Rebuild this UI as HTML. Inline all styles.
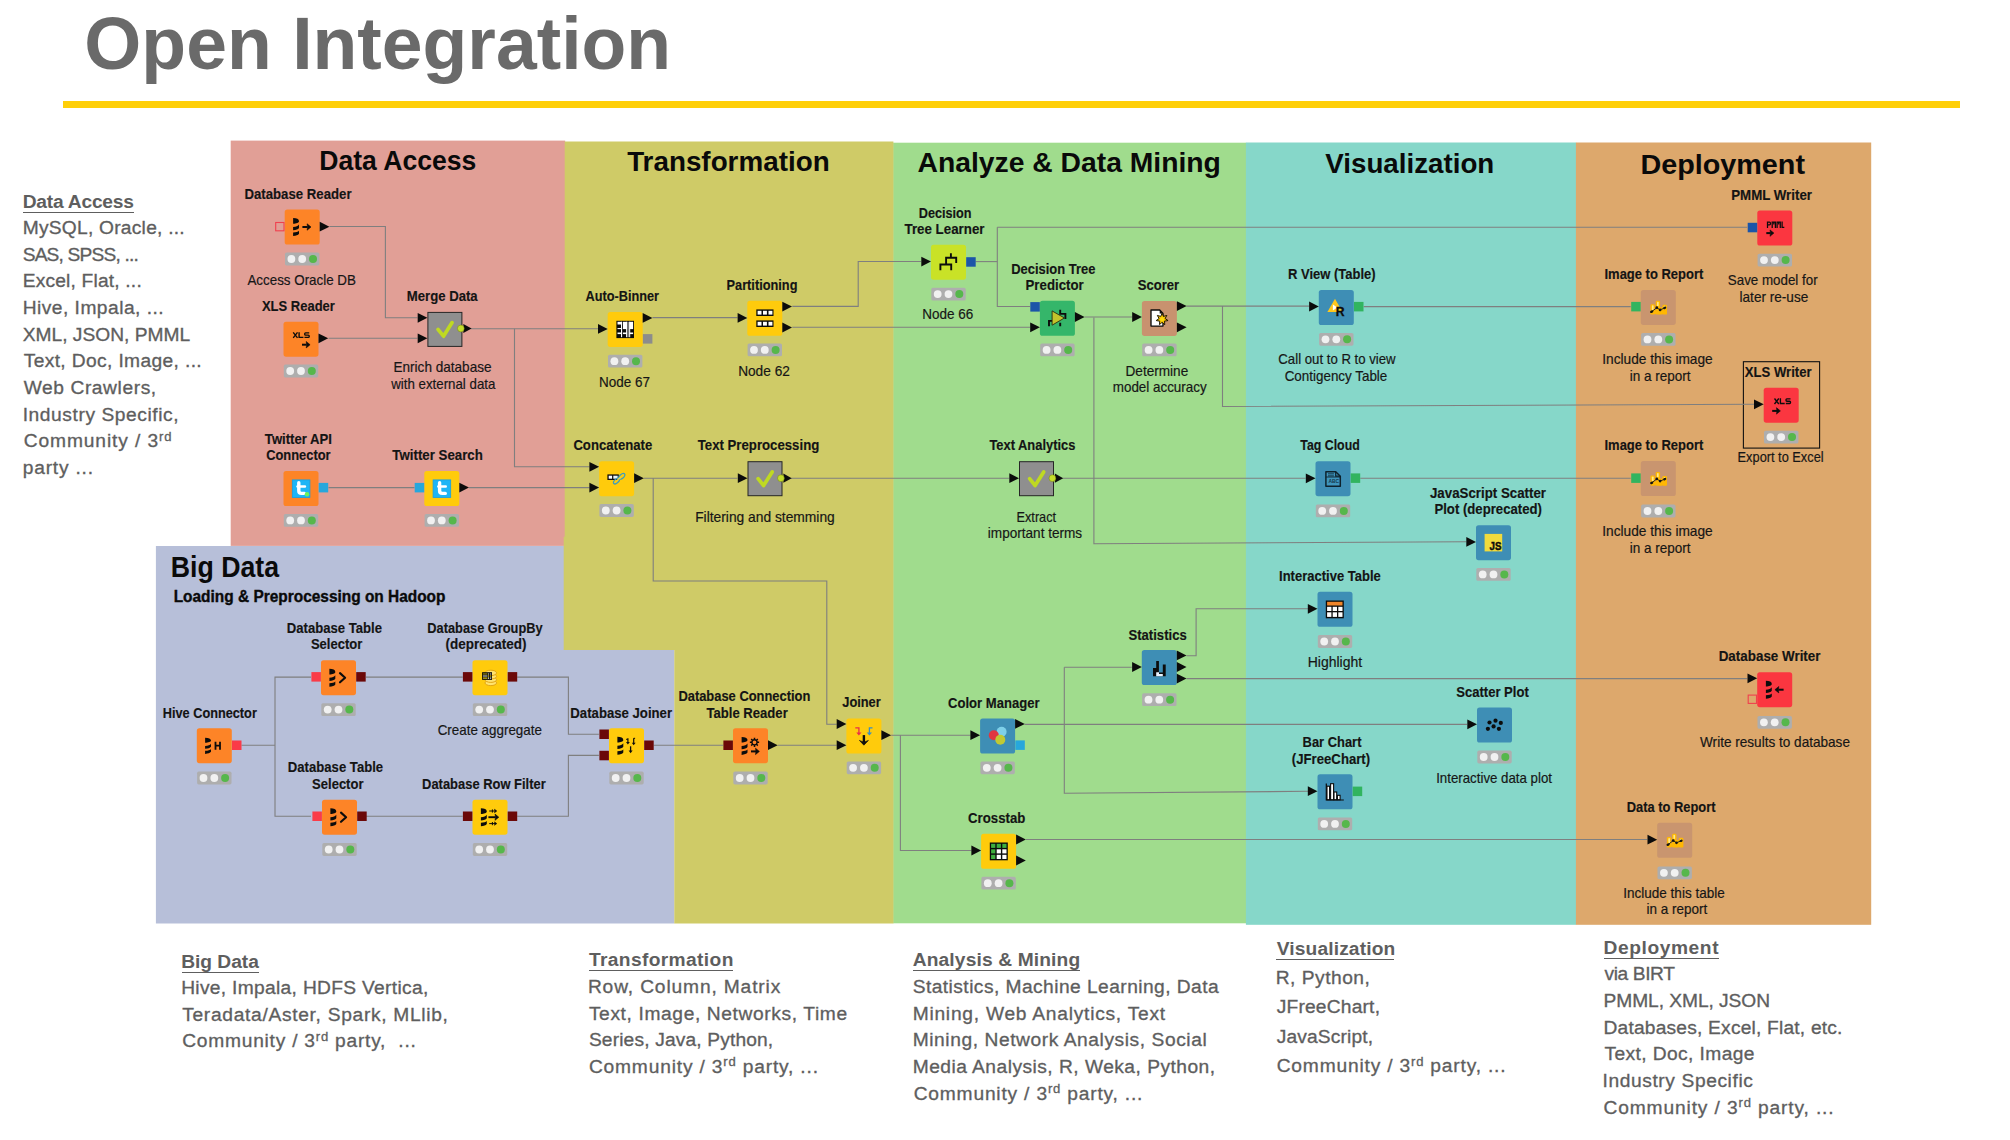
<!DOCTYPE html>
<html lang="en"><head><meta charset="utf-8"><title>Open Integration</title>
<style>
html,body{margin:0;padding:0;background:#fff}
body{width:2010px;height:1140px;position:relative;overflow:hidden;font-family:"Liberation Sans",sans-serif}
#diagram{position:absolute;left:0;top:0}
#diagram text{font-family:"Liberation Sans",sans-serif;text-anchor:middle;fill:#141414}
#diagram .nl{font-size:14.2px;font-weight:700;stroke:#141414;stroke-width:.15px}
#diagram .nd{font-size:14.2px;font-weight:400;fill:#161616;stroke:#161616;stroke-width:.18px}
#diagram .st{font-size:28px;font-weight:700;fill:#0a0a0a}
#diagram .sub{font-size:15.6px;font-weight:700;text-anchor:start;fill:#0a0a0a;stroke:#0a0a0a;stroke-width:.35px}
h1{position:absolute;left:84.3px;top:1.3px;margin:0;font-size:73.3px;letter-spacing:0.03px;line-height:86px;font-weight:700;color:#6A6A6A;white-space:nowrap;transform-origin:0 0}
#rule{position:absolute;left:63.3px;top:101.2px;width:1896.9px;height:6.6px;background:#FFCF08}
.ch,.cl{position:absolute;white-space:nowrap;color:#5e5e5e;font-size:19.2px;line-height:24px}
.ch{font-weight:700}
.cl{-webkit-text-stroke:0.32px #5e5e5e}
.ul{position:absolute;height:1.25px;background:#5e5e5e}
sup{font-size:68%;vertical-align:baseline;position:relative;top:-0.48em;line-height:0}
</style></head>
<body>
<svg id="diagram" width="2010" height="1140" viewBox="0 0 2010 1140">
<rect x="230.7" y="140.6" width="334.5" height="405.3" fill="#E19F96" />
<rect x="893.1" y="142.7" width="353.1" height="780.6" fill="#A0DC8D" />
<rect x="1245.9" y="142.5" width="330.3" height="782.3" fill="#86D7C9" />
<rect x="1575.9" y="142.5" width="295.3" height="782.3" fill="#DDA86C" />
<path d="M155.9 545.9H564.2V650.1H674.4V923.5H155.9Z" fill="#B7BFD9"/>
<path d="M564.7 141.5H893.4V923.4H674.3V649.9H563.7V536.8H564.7Z" fill="#CFCB67"/>
<rect x="1743.4" y="361.7" width="76.2" height="86.4" fill="none" stroke="#111" stroke-width="1.1"/>
<g fill="none" stroke="#7f7f7f" stroke-width="1.1">
<path d="M329.5 226.5H385.4V317.8H417.5"/>
<path d="M328.5 338.3H417.5"/>
<path d="M471 328.8H598"/>
<path d="M514.5 328.8V466.8H589.5"/>
<path d="M328.5 487.6H414.5"/>
<path d="M469 487.6H589.5"/>
<path d="M652.5 317.6H737.5"/>
<path d="M792.3 306.4H858.2V261.5H921"/>
<path d="M792.3 327.3H1030"/>
<path d="M643.7 478.2H737.5"/>
<path d="M653.2 478.2V581H826.8V724.2H836.7"/>
<path d="M791 478.2H1009"/>
<path d="M975.6 261.6H997.3"/>
<path d="M997.3 227.3V306.5H1030"/>
<path d="M997.3 227.3H1747.2"/>
<path d="M1084.6 317H1132"/>
<path d="M1093.9 317.4V543.7L1466.2 541.7"/>
<path d="M1186.4 306.1H1309"/>
<path d="M1222.5 306.1V406.5L1754 404.3"/>
<path d="M1363.7 306.6H1630.7"/>
<path d="M1062.5 478.3H1305.6"/>
<path d="M1360.3 478.3H1630.7"/>
<path d="M241.5 745.3H275"/>
<path d="M311 677.1H275V816.2H311"/>
<path d="M366 677.1H462.7"/>
<path d="M366 816.2H462.7"/>
<path d="M517.2 677.1H568.4V734.2H598.9"/>
<path d="M517.2 816.2H568.4V755.4H598.9"/>
<path d="M653.7 745.3H723.2"/>
<path d="M777.7 745.3H836.7"/>
<path d="M891.1 735.2H970.4"/>
<path d="M900.4 735.2V850.5H971.4"/>
<path d="M1024.7 724.4H1467"/>
<path d="M1064.3 667.2V793.3L1308 791.3"/>
<path d="M1064.3 667.2H1131.8"/>
<path d="M1186.5 655.8H1196.1V608.8H1308"/>
<path d="M1186.5 678.6H1747.3"/>
<path d="M1026 839.5H1647.3"/>
</g>
<rect x="284.7" y="209.5" width="35" height="35" rx="2.6" fill="#FD8427"/>
<g transform="translate(302.2 227.0)"><g transform="translate(0 0) scale(1 1)" fill="#0c0c0c"><path d="M-9.1-8.9C-5.5-8.9-3.2-7.7-3.2-5.8C-3.2-4.3-6-3.5-9.1-3.3Z"/><path d="M-9.1 .1C-6-.1-4.2-.9-3.2-2.4V1C-4.2 2.3-6 3.1-9.1 3.3Z"/><path d="M-9.1 5.5C-6 5.3-4.2 4.7-3.2 3.7V6.7C-4.2 8.1-6 8.7-9.1 9Z"/></g><path d="M0.2 -1.0H5.4V1.0H0.2Z" fill="#0c0c0c"/><path d="M4.9 -3.2L8.8 0L4.9 3.2L5.4 0Z" fill="#0c0c0c" stroke="#0c0c0c" stroke-width=".6" stroke-linejoin="round"/></g>
<rect x="275.7" y="222.5" width="8.3" height="8.3" fill="none" stroke="#F0404E" stroke-width="1.1"/>
<path d="M319.7 221.8L329.4 226.7L319.7 231.6Z" fill="#0b0b0b"/>
<rect x="285.0" y="252.6" width="34.4" height="12.8" rx="1.6" fill="#AEAEAE"/>
<circle cx="291.4" cy="259.0" r="3.9" fill="#F1F1F1"/><circle cx="302.2" cy="259.0" r="3.9" fill="#F1F1F1"/><circle cx="313.0" cy="259.0" r="4" fill="#56B74B"/>
<text x="298.0" y="199.0" class="nl" textLength="107.1" lengthAdjust="spacingAndGlyphs">Database Reader</text>
<text x="301.7" y="284.6" class="nd" textLength="108.5" lengthAdjust="spacingAndGlyphs">Access Oracle DB</text>
<rect x="283.5" y="321.7" width="35" height="35" rx="2.6" fill="#FD8427"/>
<g transform="translate(301.0 339.2)"><g transform="translate(0 0)" fill="none" stroke="#0c0c0c" stroke-width="1.35"><path d="M-7.8-6.8L-3.5-1.3M-3.5-6.8L-7.8-1.3"/><path d="M-1.9-7V-1.8H2.4"/><path d="M8.2-6.4H4.6Q3.7-6.4 3.7-5.5V-5Q3.7-4.1 4.6-4.1H7.3Q8.2-4.1 8.2-3.2V-2.7Q8.2-1.8 7.3-1.8H3.5"/></g><path d="M1 4.5H5.699999999999999V6.5H1Z" fill="#0c0c0c"/><path d="M5.199999999999999 2.3L9.1 5.5L5.199999999999999 8.7L5.699999999999999 5.5Z" fill="#0c0c0c" stroke="#0c0c0c" stroke-width=".6" stroke-linejoin="round"/></g>
<path d="M318.5 333.4L328.2 338.3L318.5 343.2Z" fill="#0b0b0b"/>
<rect x="283.8" y="364.6" width="34.4" height="12.8" rx="1.6" fill="#AEAEAE"/>
<circle cx="290.2" cy="371.0" r="3.9" fill="#F1F1F1"/><circle cx="301.0" cy="371.0" r="3.9" fill="#F1F1F1"/><circle cx="311.8" cy="371.0" r="4" fill="#56B74B"/>
<text x="298.4" y="310.8" class="nl" textLength="72.9" lengthAdjust="spacingAndGlyphs">XLS Reader</text>
<rect x="427.9" y="312.4" width="34" height="34" fill="#8F8F8F" stroke="#262626" stroke-width="1"/>
<g transform="translate(444.9 329.4)"><path d="M-6.9 0L-1.4 6.8L7.2-6.8" fill="none" stroke="#BFD921" stroke-width="3.7" stroke-linecap="round" stroke-linejoin="round"/></g>
<path d="M417.7 312.9L427.4 317.8L417.7 322.7Z" fill="#0b0b0b"/>
<path d="M417.7 333.4L427.4 338.3L417.7 343.2Z" fill="#0b0b0b"/>
<path d="M463.3 323.9L471.6 328.5L463.3 333.1Z" fill="#0b0b0b"/>
<circle cx="460.8" cy="328.5" r="3.4" fill="#C4DD2A" stroke="#6f7d10" stroke-width="0.5"/>
<text x="442.2" y="300.8" class="nl" textLength="70.9" lengthAdjust="spacingAndGlyphs">Merge Data</text>
<text x="442.5" y="372.4" class="nd" textLength="98.0" lengthAdjust="spacingAndGlyphs">Enrich database</text>
<text x="443.3" y="389.1" class="nd" textLength="104.1" lengthAdjust="spacingAndGlyphs">with external data</text>
<rect x="607.7" y="311.9" width="35" height="35" rx="2.6" fill="#FFCB0C"/>
<g transform="translate(625.2 329.4)"><rect x="-8.8" y="-8.6" width="17.6" height="17.3" fill="#0c0c0c"/><g fill="#fff"><rect x="-7.7" y="-7.6" width="4.6" height="2.7"/><rect x="-7.7" y="-1.4" width="4.6" height="1.1"/><rect x="-7.7" y="3.1" width="4.6" height="1.6"/><rect x="-4.2" y="-7.6" width="1.1" height="15.4"/><rect x="-2.2" y="-7.6" width="4.2" height="7.3"/><rect x="-2.2" y="3.1" width="4.2" height="1.6"/><rect x=".9" y="-7.6" width="1.1" height="15.4"/><rect x="3.9" y="-7.6" width="4" height="7.3"/><rect x="3.9" y="3.1" width="4" height="1.6"/><rect x="3.9" y="-7.6" width="1.1" height="15.4"/></g><rect x="2" y="-7.6" width="1.9" height="15.4" fill="#777"/></g>
<path d="M598.0 324.0L607.7 328.9L598.0 333.8Z" fill="#0b0b0b"/>
<path d="M642.7 313.0L652.4 317.9L642.7 322.8Z" fill="#0b0b0b"/>
<rect x="642.9" y="334.1" width="9.5" height="9.5" fill="#8C8C8C"/>
<rect x="608.0" y="354.8" width="34.4" height="12.8" rx="1.6" fill="#AEAEAE"/>
<circle cx="614.4" cy="361.2" r="3.9" fill="#F1F1F1"/><circle cx="625.2" cy="361.2" r="3.9" fill="#F1F1F1"/><circle cx="636.0" cy="361.2" r="4" fill="#56B74B"/>
<text x="622.3" y="300.8" class="nl" textLength="73.5" lengthAdjust="spacingAndGlyphs">Auto-Binner</text>
<text x="624.5" y="386.9" class="nd" textLength="51.0" lengthAdjust="spacingAndGlyphs">Node 67</text>
<rect x="747.3" y="300.8" width="35" height="35" rx="2.6" fill="#FFCB0C"/>
<g transform="translate(764.8 318.3)"><rect x="-8.5" y="-8.9" width="17.2" height="6.6" fill="#0c0c0c"/><g fill="#fff"><rect x="-7.2" y="-7.5" width="3.9" height="3.8"/><rect x="-1.8" y="-7.5" width="3.9" height="3.8"/><rect x="3.7" y="-7.5" width="3.9" height="3.8"/></g><rect x="-8.5" y="2.1" width="17.2" height="6.6" fill="#0c0c0c"/><g fill="#fff"><rect x="-7.2" y="3.5" width="3.9" height="3.8"/><rect x="-1.8" y="3.5" width="3.9" height="3.8"/><rect x="3.7" y="3.5" width="3.9" height="3.8"/></g></g>
<path d="M737.6 313.0L747.3 317.9L737.6 322.8Z" fill="#0b0b0b"/>
<path d="M782.3 301.7L792.0 306.6L782.3 311.5Z" fill="#0b0b0b"/>
<path d="M782.3 322.6L792.0 327.5L782.3 332.4Z" fill="#0b0b0b"/>
<rect x="747.6" y="343.5" width="34.4" height="12.8" rx="1.6" fill="#AEAEAE"/>
<circle cx="754.0" cy="349.9" r="3.9" fill="#F1F1F1"/><circle cx="764.8" cy="349.9" r="3.9" fill="#F1F1F1"/><circle cx="775.6" cy="349.9" r="4" fill="#56B74B"/>
<text x="762.0" y="289.8" class="nl" textLength="70.9" lengthAdjust="spacingAndGlyphs">Partitioning</text>
<text x="764.0" y="375.9" class="nd" textLength="51.7" lengthAdjust="spacingAndGlyphs">Node 62</text>
<rect x="283.5" y="471.0" width="35" height="35" rx="2.6" fill="#FD8427"/>
<g transform="translate(301.0 488.5)"><rect x="-8.7" y="-8.6" width="17.6" height="17.6" fill="#1DB5F6" stroke="#1A9FE0" stroke-width=".8"/><path d="M-2.2-5.7V2.3Q-2.2 4.9 .5 4.9H3.5" fill="none" stroke="#fff" stroke-width="3.4" stroke-linecap="round"/><path d="M-3.4-2H3.9" fill="none" stroke="#fff" stroke-width="2.6" stroke-linecap="round"/><circle cx="6" cy="5.8" r="2.3" fill="#6CF25C"/></g>
<rect x="318.7" y="482.9" width="9.5" height="9.5" fill="#27A7DC"/>
<rect x="283.8" y="514.0" width="34.4" height="12.8" rx="1.6" fill="#AEAEAE"/>
<circle cx="290.2" cy="520.4" r="3.9" fill="#F1F1F1"/><circle cx="301.0" cy="520.4" r="3.9" fill="#F1F1F1"/><circle cx="311.8" cy="520.4" r="4" fill="#56B74B"/>
<text x="298.4" y="444.1" class="nl" textLength="67.1" lengthAdjust="spacingAndGlyphs">Twitter API</text>
<text x="298.4" y="460.3" class="nl" textLength="64.5" lengthAdjust="spacingAndGlyphs">Connector</text>
<rect x="424.3" y="471.0" width="35" height="35" rx="2.6" fill="#FFCB0C"/>
<g transform="translate(441.8 488.5)"><rect x="-8.7" y="-8.6" width="17.6" height="17.6" fill="#1DB5F6" stroke="#1A9FE0" stroke-width=".8"/><path d="M-2.2-5.7V2.3Q-2.2 4.9 .5 4.9H3.5" fill="none" stroke="#fff" stroke-width="3.4" stroke-linecap="round"/><path d="M-3.4-2H3.9" fill="none" stroke="#fff" stroke-width="2.6" stroke-linecap="round"/></g>
<rect x="414.7" y="482.9" width="9.5" height="9.5" fill="#27A7DC"/>
<path d="M459.3 482.7L469.0 487.6L459.3 492.5Z" fill="#0b0b0b"/>
<rect x="424.6" y="514.0" width="34.4" height="12.8" rx="1.6" fill="#AEAEAE"/>
<circle cx="431.0" cy="520.4" r="3.9" fill="#F1F1F1"/><circle cx="441.8" cy="520.4" r="3.9" fill="#F1F1F1"/><circle cx="452.6" cy="520.4" r="4" fill="#56B74B"/>
<text x="437.6" y="460.3" class="nl" textLength="90.5" lengthAdjust="spacingAndGlyphs">Twitter Search</text>
<rect x="599.1" y="461.2" width="35" height="35" rx="2.6" fill="#FFCB0C"/>
<g transform="translate(616.6 478.7)"><rect x="-9.2" y="-4.3" width="11.4" height="5.6" fill="#0c0c0c"/><rect x="-7.9" y="-3" width="3.4" height="3" fill="#fff"/><rect x="-3.3" y="-3" width="4.4" height="3" fill="#E6F3FA"/><g fill="none" stroke="#3C9DBF" stroke-width="1.25"><ellipse cx="5.3" cy="-2.4" rx="3.6" ry="2" transform="rotate(-42 5.3 -2.4)"/><ellipse cx="-.2" cy="2.4" rx="3.6" ry="2" transform="rotate(-42 -.2 2.4)"/></g><path d="M.8 1.2L4.2-1.4" stroke="#E8D34A" stroke-width="1.6" fill="none"/></g>
<path d="M589.4 461.9L599.1 466.8L589.4 471.7Z" fill="#0b0b0b"/>
<path d="M589.4 482.7L599.1 487.6L589.4 492.5Z" fill="#0b0b0b"/>
<path d="M634.1 473.3L643.8 478.2L634.1 483.1Z" fill="#0b0b0b"/>
<rect x="599.4" y="504.1" width="34.4" height="12.8" rx="1.6" fill="#AEAEAE"/>
<circle cx="605.8" cy="510.5" r="3.9" fill="#F1F1F1"/><circle cx="616.6" cy="510.5" r="3.9" fill="#F1F1F1"/><circle cx="627.4" cy="510.5" r="4" fill="#56B74B"/>
<text x="612.8" y="450.1" class="nl" textLength="78.8" lengthAdjust="spacingAndGlyphs">Concatenate</text>
<rect x="748.0" y="461.7" width="34" height="34" fill="#8F8F8F" stroke="#262626" stroke-width="1"/>
<g transform="translate(765.0 478.7)"><path d="M-6.9 0L-1.4 6.8L7.2-6.8" fill="none" stroke="#BFD921" stroke-width="3.7" stroke-linecap="round" stroke-linejoin="round"/></g>
<path d="M737.8 473.3L747.5 478.2L737.8 483.1Z" fill="#0b0b0b"/>
<path d="M783.4 473.6L791.7 478.2L783.4 482.8Z" fill="#0b0b0b"/>
<circle cx="780.9" cy="478.2" r="3.4" fill="#C4DD2A" stroke="#6f7d10" stroke-width="0.5"/>
<text x="758.5" y="450.1" class="nl" textLength="121.5" lengthAdjust="spacingAndGlyphs">Text Preprocessing</text>
<text x="765.0" y="521.5" class="nd" textLength="139.6" lengthAdjust="spacingAndGlyphs">Filtering and stemming</text>
<rect x="931.0" y="244.7" width="35" height="35" rx="2.6" fill="#C9E227"/>
<g transform="translate(948.5 262.2)"><path d="M2.4-9V-4.4M-2.4 2.6V-4.4H7.7V.9M-8.1 8V2.3H2.7V8" fill="none" stroke="#0c0c0c" stroke-width="1.9"/></g>
<path d="M921.3 256.7L931.0 261.6L921.3 266.5Z" fill="#0b0b0b"/>
<rect x="966.2" y="257.2" width="9.5" height="9.5" fill="#1C55A8"/>
<rect x="931.3" y="287.7" width="34.4" height="12.8" rx="1.6" fill="#AEAEAE"/>
<circle cx="937.7" cy="294.1" r="3.9" fill="#F1F1F1"/><circle cx="948.5" cy="294.1" r="3.9" fill="#F1F1F1"/><circle cx="959.3" cy="294.1" r="4" fill="#56B74B"/>
<text x="945.2" y="217.8" class="nl" textLength="52.8" lengthAdjust="spacingAndGlyphs">Decision</text>
<text x="944.5" y="234.0" class="nl" textLength="80.0" lengthAdjust="spacingAndGlyphs">Tree Learner</text>
<text x="947.7" y="319.4" class="nd" textLength="51.0" lengthAdjust="spacingAndGlyphs">Node 66</text>
<rect x="1039.9" y="300.8" width="35" height="35" rx="2.6" fill="#35B66A"/>
<g transform="translate(1057.4 318.3)"><path d="M2.8-8.6V-4.4H8V.6M-8.4 8V2.6H-5M2.8 4.5V8" fill="none" stroke="#0c0c0c" stroke-width="1.9"/><path d="M-5.3-7.4L7-.3L-5.3 6.9Z" fill="#C2C42B" stroke="#2d2d10" stroke-width=".9" stroke-linejoin="round"/></g>
<rect x="1030.3" y="302.1" width="9.5" height="9.5" fill="#1C55A8"/>
<path d="M1030.2 322.4L1039.9 327.3L1030.2 332.2Z" fill="#0b0b0b"/>
<path d="M1074.9 312.1L1084.6 317.0L1074.9 321.9Z" fill="#0b0b0b"/>
<rect x="1040.2" y="343.5" width="34.4" height="12.8" rx="1.6" fill="#AEAEAE"/>
<circle cx="1046.6" cy="349.9" r="3.9" fill="#F1F1F1"/><circle cx="1057.4" cy="349.9" r="3.9" fill="#F1F1F1"/><circle cx="1068.2" cy="349.9" r="4" fill="#56B74B"/>
<text x="1053.3" y="273.6" class="nl" textLength="84.1" lengthAdjust="spacingAndGlyphs">Decision Tree</text>
<text x="1054.6" y="289.8" class="nl" textLength="58.1" lengthAdjust="spacingAndGlyphs">Predictor</text>
<rect x="1141.9" y="300.9" width="35" height="35" rx="2.6" fill="#C8926F"/>
<g transform="translate(1159.4 318.4)"><path d="M-8.4-8.4H.3L3.6-5V7.7H-8.4Z" fill="#fff" stroke="#0c0c0c" stroke-width="1.35" stroke-linejoin="round"/><path d="M.3-8.4L3.6-5H.3Z" fill="#0c0c0c"/><polygon points="2.70,-5.30 4.05,-1.99 7.47,-3.00 5.72,0.11 8.65,2.16 5.12,2.73 5.35,6.30 2.70,3.90 0.05,6.30 0.28,2.73 -3.25,2.16 -0.32,0.11 -2.07,-3.00 1.35,-1.99" fill="#F2C100" stroke="#1c1400" stroke-width=".95" stroke-linejoin="miter"/><circle cx="2.7" cy=".8" r="2" fill="#FFD90A"/></g>
<path d="M1132.2 312.1L1141.9 317.0L1132.2 321.9Z" fill="#0b0b0b"/>
<path d="M1176.9 301.2L1186.6 306.1L1176.9 311.0Z" fill="#0b0b0b"/>
<path d="M1176.9 322.4L1186.6 327.3L1176.9 332.2Z" fill="#0b0b0b"/>
<rect x="1142.2" y="343.5" width="34.4" height="12.8" rx="1.6" fill="#AEAEAE"/>
<circle cx="1148.6" cy="349.9" r="3.9" fill="#F1F1F1"/><circle cx="1159.4" cy="349.9" r="3.9" fill="#F1F1F1"/><circle cx="1170.2" cy="349.9" r="4" fill="#56B74B"/>
<text x="1158.4" y="289.8" class="nl" textLength="41.5" lengthAdjust="spacingAndGlyphs">Scorer</text>
<text x="1156.9" y="375.9" class="nd" textLength="62.7" lengthAdjust="spacingAndGlyphs">Determine</text>
<text x="1159.7" y="392.1" class="nd" textLength="93.9" lengthAdjust="spacingAndGlyphs">model accuracy</text>
<rect x="1318.8" y="290.0" width="35" height="35" rx="2.6" fill="#3E8EB5"/>
<g transform="translate(1336.3 307.5)"><path d="M-1.3-8.7L-8.9 4.5H6.2Z" fill="#FFC71C"/><path d="M-3.4-3L.9 .1L-3.4 3Z" fill="#fff"/><text x="-0.6" y="8.4" style="font-family:'Liberation Sans',sans-serif;font-size:12px;font-weight:700;text-anchor:start;fill:#0c0c0c;stroke:#0c0c0c;stroke-width:.3px" textLength="8.8" lengthAdjust="spacingAndGlyphs">R</text></g>
<path d="M1309.1 301.6L1318.8 306.5L1309.1 311.4Z" fill="#0b0b0b"/>
<rect x="1354.0" y="301.9" width="9.5" height="9.5" fill="#31B45F"/>
<rect x="1319.1" y="332.9" width="34.4" height="12.8" rx="1.6" fill="#AEAEAE"/>
<circle cx="1325.5" cy="339.3" r="3.9" fill="#F1F1F1"/><circle cx="1336.3" cy="339.3" r="3.9" fill="#F1F1F1"/><circle cx="1347.1" cy="339.3" r="4" fill="#56B74B"/>
<text x="1331.8" y="278.5" class="nl" textLength="87.6" lengthAdjust="spacingAndGlyphs">R View (Table)</text>
<text x="1337.0" y="364.2" class="nd" textLength="117.3" lengthAdjust="spacingAndGlyphs">Call out to R to view</text>
<text x="1336.0" y="380.8" class="nd" textLength="102.6" lengthAdjust="spacingAndGlyphs">Contigency Table</text>
<rect x="1019.5" y="461.7" width="34" height="34" fill="#8F8F8F" stroke="#262626" stroke-width="1"/>
<g transform="translate(1036.5 478.7)"><path d="M-6.9 0L-1.4 6.8L7.2-6.8" fill="none" stroke="#BFD921" stroke-width="3.7" stroke-linecap="round" stroke-linejoin="round"/></g>
<path d="M1009.3 473.3L1019.0 478.2L1009.3 483.1Z" fill="#0b0b0b"/>
<path d="M1054.9 473.6L1063.2 478.2L1054.9 482.8Z" fill="#0b0b0b"/>
<circle cx="1052.4" cy="478.2" r="3.4" fill="#C4DD2A" stroke="#6f7d10" stroke-width="0.5"/>
<text x="1032.4" y="450.1" class="nl" textLength="86.0" lengthAdjust="spacingAndGlyphs">Text Analytics</text>
<text x="1036.3" y="521.5" class="nd" textLength="39.6" lengthAdjust="spacingAndGlyphs">Extract</text>
<text x="1035.0" y="538.1" class="nd" textLength="94.3" lengthAdjust="spacingAndGlyphs">important terms</text>
<rect x="1315.5" y="461.2" width="35" height="35" rx="2.6" fill="#3E8EB5"/>
<g transform="translate(1333.0 478.7)"><path d="M-7.1-6.9H2.7L7.3-2.5V7.5H-7.1Z" fill="#3F95BD" stroke="#0e222c" stroke-width="1.5" stroke-linejoin="round"/><path d="M2.7-6.9V-2.5H7.3" fill="none" stroke="#0e222c" stroke-width="1.2"/><rect x="-5" y="-5.5" width="5.9" height="1.2" fill="#1c495f"/><rect x="-5" y="-3.5" width="5.9" height="1.2" fill="#1c495f"/><path d="M-7.1-1.7H7.3" stroke="#0e222c" stroke-width=".9" fill="none"/><text x=".7" y="4.2" style="font-family:'Liberation Sans',sans-serif;font-size:5.9px;font-weight:700;text-anchor:middle;fill:#15394c" textLength="10.6" lengthAdjust="spacingAndGlyphs">ABC</text></g>
<path d="M1305.8 473.4L1315.5 478.3L1305.8 483.2Z" fill="#0b0b0b"/>
<rect x="1350.7" y="473.4" width="9.5" height="9.5" fill="#31B45F"/>
<rect x="1315.8" y="504.5" width="34.4" height="12.8" rx="1.6" fill="#AEAEAE"/>
<circle cx="1322.2" cy="510.9" r="3.9" fill="#F1F1F1"/><circle cx="1333.0" cy="510.9" r="3.9" fill="#F1F1F1"/><circle cx="1343.8" cy="510.9" r="4" fill="#56B74B"/>
<text x="1330.0" y="450.1" class="nl" textLength="59.5" lengthAdjust="spacingAndGlyphs">Tag Cloud</text>
<rect x="1476.0" y="525.2" width="35" height="35" rx="2.6" fill="#3E8EB5"/>
<g transform="translate(1493.5 542.7)"><rect x="-8.9" y="-8.8" width="17.6" height="17.5" fill="#F0DB3D"/><text x="-4" y="7.4" style="font-family:'Liberation Sans',sans-serif;font-size:11.4px;font-weight:700;text-anchor:start;fill:#0c0c0c;stroke:#0c0c0c;stroke-width:.45px" textLength="11.9" lengthAdjust="spacingAndGlyphs">JS</text></g>
<path d="M1466.3 537.0L1476.0 541.9L1466.3 546.8Z" fill="#0b0b0b"/>
<rect x="1476.3" y="568.0" width="34.4" height="12.8" rx="1.6" fill="#AEAEAE"/>
<circle cx="1482.7" cy="574.4" r="3.9" fill="#F1F1F1"/><circle cx="1493.5" cy="574.4" r="3.9" fill="#F1F1F1"/><circle cx="1504.3" cy="574.4" r="4" fill="#56B74B"/>
<text x="1488.0" y="498.0" class="nl" textLength="116.1" lengthAdjust="spacingAndGlyphs">JavaScript Scatter</text>
<text x="1488.2" y="514.2" class="nl" textLength="107.5" lengthAdjust="spacingAndGlyphs">Plot (deprecated)</text>
<rect x="1757.3" y="210.5" width="35" height="35" rx="2.6" fill="#FB3640"/>
<g transform="translate(1774.8 228.0)"><g fill="none" stroke="#0c0c0c" stroke-width="1.25" stroke-linejoin="miter"><path d="M-7.3-.1V-5.9H-5.4Q-4.3-5.9-4.3-4.5Q-4.3-3.1-5.4-3.1H-7.3"/><path d="M-2.6-.1V-5.9H.6V-.1M-1-5.9V-3.4"/><path d="M2.3-.1V-5.9H5.5V-.1M3.9-5.9V-3.4"/><path d="M7.3-6.4V-.7H9.5"/></g><path d="M-8.5 4.1H-4.3V6.1H-8.5Z" fill="#0c0c0c"/><path d="M-4.8 1.8999999999999995L-0.9 5.1L-4.8 8.3L-4.3 5.1Z" fill="#0c0c0c" stroke="#0c0c0c" stroke-width=".6" stroke-linejoin="round"/></g>
<rect x="1747.7" y="222.8" width="9.5" height="9.5" fill="#1C55A8"/>
<rect x="1757.6" y="253.7" width="34.4" height="12.8" rx="1.6" fill="#AEAEAE"/>
<circle cx="1764.0" cy="260.1" r="3.9" fill="#F1F1F1"/><circle cx="1774.8" cy="260.1" r="3.9" fill="#F1F1F1"/><circle cx="1785.6" cy="260.1" r="4" fill="#56B74B"/>
<text x="1771.6" y="200.1" class="nl" textLength="80.8" lengthAdjust="spacingAndGlyphs">PMML Writer</text>
<text x="1772.7" y="285.4" class="nd" textLength="89.8" lengthAdjust="spacingAndGlyphs">Save model for</text>
<text x="1773.9" y="302.0" class="nd" textLength="68.7" lengthAdjust="spacingAndGlyphs">later re-use</text>
<rect x="1640.8" y="289.9" width="35" height="35" rx="2.6" fill="#C9956F"/>
<g transform="translate(1658.3 307.4)"><g fill="#FFB703"><rect x="-7.8" y="-3.2" width="4.4" height="10.4" rx="1.2"/><rect x="-2.6" y="-6.6" width="4.4" height="13.8" rx="1.2"/><rect x=".6" y="-.2" width="3.6" height="7.4" rx="1"/><rect x="4" y="-2.6" width="4.7" height="9.8" rx="1.2"/><rect x="-7.4" y="3" width="15.6" height="3.6"/></g><g fill="#FFE88A"><rect x="-6.4" y="-2.2" width="1.7" height="5" rx=".8"/><rect x="-1.3" y="-5.6" width="1.7" height="4.4" rx=".8"/><rect x="5.4" y="-1.6" width="1.6" height="1.2" rx=".6"/></g><path d="M-6.6 4.3L-1.5 .3L1.8 2.5L6.4 .5" fill="none" stroke="#1b1b1b" stroke-width=".9"/><g fill="#141414"><ellipse cx="-6.6" cy="4.3" rx="1.7" ry="1.2" transform="rotate(-25 -6.6 4.3)"/><circle cx="-1.5" cy=".3" r="1.35"/><circle cx="1.8" cy="2.5" r="1.35"/><ellipse cx="6.4" cy=".5" rx="1.6" ry="1.2" transform="rotate(-20 6.4 .5)"/></g></g>
<rect x="1631.2" y="301.9" width="9.5" height="9.5" fill="#31B45F"/>
<rect x="1641.1" y="333.0" width="34.4" height="12.8" rx="1.6" fill="#AEAEAE"/>
<circle cx="1647.5" cy="339.4" r="3.9" fill="#F1F1F1"/><circle cx="1658.3" cy="339.4" r="3.9" fill="#F1F1F1"/><circle cx="1669.1" cy="339.4" r="4" fill="#56B74B"/>
<text x="1653.9" y="278.9" class="nl" textLength="98.8" lengthAdjust="spacingAndGlyphs">Image to Report</text>
<text x="1657.5" y="364.3" class="nd" textLength="110.5" lengthAdjust="spacingAndGlyphs">Include this image</text>
<text x="1660.1" y="380.9" class="nd" textLength="60.8" lengthAdjust="spacingAndGlyphs">in a report</text>
<rect x="1763.7" y="387.7" width="35" height="35" rx="2.6" fill="#FB3640"/>
<g transform="translate(1781.2 405.2)"><g transform="translate(1.1 0.1)" fill="none" stroke="#0c0c0c" stroke-width="1.35"><path d="M-7.8-6.8L-3.5-1.3M-3.5-6.8L-7.8-1.3"/><path d="M-1.9-7V-1.8H2.4"/><path d="M8.2-6.4H4.6Q3.7-6.4 3.7-5.5V-5Q3.7-4.1 4.6-4.1H7.3Q8.2-4.1 8.2-3.2V-2.7Q8.2-1.8 7.3-1.8H3.5"/></g><path d="M-9 4.7H-4.2V6.7H-9Z" fill="#0c0c0c"/><path d="M-4.7 2.5L-0.8 5.7L-4.7 8.9L-4.2 5.7Z" fill="#0c0c0c" stroke="#0c0c0c" stroke-width=".6" stroke-linejoin="round"/></g>
<path d="M1754.0 399.4L1763.7 404.3L1754.0 409.2Z" fill="#0b0b0b"/>
<rect x="1764.0" y="430.7" width="34.4" height="12.8" rx="1.6" fill="#AEAEAE"/>
<circle cx="1770.4" cy="437.1" r="3.9" fill="#F1F1F1"/><circle cx="1781.2" cy="437.1" r="3.9" fill="#F1F1F1"/><circle cx="1792.0" cy="437.1" r="4" fill="#56B74B"/>
<text x="1778.2" y="376.6" class="nl" textLength="66.8" lengthAdjust="spacingAndGlyphs">XLS Writer</text>
<text x="1780.6" y="462.4" class="nd" textLength="86.0" lengthAdjust="spacingAndGlyphs">Export to Excel</text>
<rect x="1640.8" y="461.1" width="35" height="35" rx="2.6" fill="#C9956F"/>
<g transform="translate(1658.3 478.6)"><g fill="#FFB703"><rect x="-7.8" y="-3.2" width="4.4" height="10.4" rx="1.2"/><rect x="-2.6" y="-6.6" width="4.4" height="13.8" rx="1.2"/><rect x=".6" y="-.2" width="3.6" height="7.4" rx="1"/><rect x="4" y="-2.6" width="4.7" height="9.8" rx="1.2"/><rect x="-7.4" y="3" width="15.6" height="3.6"/></g><g fill="#FFE88A"><rect x="-6.4" y="-2.2" width="1.7" height="5" rx=".8"/><rect x="-1.3" y="-5.6" width="1.7" height="4.4" rx=".8"/><rect x="5.4" y="-1.6" width="1.6" height="1.2" rx=".6"/></g><path d="M-6.6 4.3L-1.5 .3L1.8 2.5L6.4 .5" fill="none" stroke="#1b1b1b" stroke-width=".9"/><g fill="#141414"><ellipse cx="-6.6" cy="4.3" rx="1.7" ry="1.2" transform="rotate(-25 -6.6 4.3)"/><circle cx="-1.5" cy=".3" r="1.35"/><circle cx="1.8" cy="2.5" r="1.35"/><ellipse cx="6.4" cy=".5" rx="1.6" ry="1.2" transform="rotate(-20 6.4 .5)"/></g></g>
<rect x="1631.2" y="473.4" width="9.5" height="9.5" fill="#31B45F"/>
<rect x="1641.1" y="504.6" width="34.4" height="12.8" rx="1.6" fill="#AEAEAE"/>
<circle cx="1647.5" cy="511.0" r="3.9" fill="#F1F1F1"/><circle cx="1658.3" cy="511.0" r="3.9" fill="#F1F1F1"/><circle cx="1669.1" cy="511.0" r="4" fill="#56B74B"/>
<text x="1653.9" y="450.2" class="nl" textLength="98.8" lengthAdjust="spacingAndGlyphs">Image to Report</text>
<text x="1657.5" y="535.9" class="nd" textLength="110.5" lengthAdjust="spacingAndGlyphs">Include this image</text>
<text x="1660.1" y="552.5" class="nd" textLength="60.8" lengthAdjust="spacingAndGlyphs">in a report</text>
<rect x="196.8" y="728.2" width="35" height="35" rx="2.6" fill="#FD8427"/>
<g transform="translate(214.3 745.7)"><g transform="translate(-0.1 0.1) scale(1 0.9)" fill="#0c0c0c"><path d="M-9.1-8.9C-5.5-8.9-3.2-7.7-3.2-5.8C-3.2-4.3-6-3.5-9.1-3.3Z"/><path d="M-9.1 .1C-6-.1-4.2-.9-3.2-2.4V1C-4.2 2.3-6 3.1-9.1 3.3Z"/><path d="M-9.1 5.5C-6 5.3-4.2 4.7-3.2 3.7V6.7C-4.2 8.1-6 8.7-9.1 9Z"/></g><path d="M1.2-4V4M5.7-4V4M1.2 0H5.7" fill="none" stroke="#0c0c0c" stroke-width="1.8"/></g>
<rect x="232.0" y="740.5" width="9.5" height="9.5" fill="#FA3B48"/>
<rect x="197.1" y="771.6" width="34.4" height="12.8" rx="1.6" fill="#AEAEAE"/>
<circle cx="203.5" cy="778.0" r="3.9" fill="#F1F1F1"/><circle cx="214.3" cy="778.0" r="3.9" fill="#F1F1F1"/><circle cx="225.1" cy="778.0" r="4" fill="#56B74B"/>
<text x="209.8" y="717.5" class="nl" textLength="94.1" lengthAdjust="spacingAndGlyphs">Hive Connector</text>
<rect x="321.0" y="660.2" width="35" height="35" rx="2.6" fill="#FD8427"/>
<g transform="translate(338.5 677.7)"><g transform="translate(0 0) scale(1 1)" fill="#0c0c0c"><path d="M-9.1-8.9C-5.5-8.9-3.2-7.7-3.2-5.8C-3.2-4.3-6-3.5-9.1-3.3Z"/><path d="M-9.1 .1C-6-.1-4.2-.9-3.2-2.4V1C-4.2 2.3-6 3.1-9.1 3.3Z"/><path d="M-9.1 5.5C-6 5.3-4.2 4.7-3.2 3.7V6.7C-4.2 8.1-6 8.7-9.1 9Z"/></g><path d="M1.5-4.6L6.6 0L1.5 4.6" fill="none" stroke="#0c0c0c" stroke-width="2.1" stroke-linecap="round" stroke-linejoin="round"/></g>
<rect x="311.4" y="672.1" width="9.5" height="9.5" fill="#FA3B48"/>
<rect x="356.2" y="672.1" width="9.5" height="9.5" fill="#6B0808"/>
<rect x="321.3" y="703.2" width="34.4" height="12.8" rx="1.6" fill="#AEAEAE"/>
<circle cx="327.7" cy="709.6" r="3.9" fill="#F1F1F1"/><circle cx="338.5" cy="709.6" r="3.9" fill="#F1F1F1"/><circle cx="349.3" cy="709.6" r="4" fill="#56B74B"/>
<text x="334.4" y="632.8" class="nl" textLength="95.3" lengthAdjust="spacingAndGlyphs">Database Table</text>
<text x="336.6" y="649.4" class="nl" textLength="51.4" lengthAdjust="spacingAndGlyphs">Selector</text>
<rect x="472.5" y="660.2" width="35" height="35" rx="2.6" fill="#FFCB0C"/>
<g transform="translate(490.0 677.7)"><g fill="#FFE36E" stroke="#E2A616" stroke-width="1"><ellipse cx=".8" cy="5.2" rx="5.8" ry="2.7"/><ellipse cx=".8" cy="2" rx="5.8" ry="2.7"/><ellipse cx=".8" cy="-1.4" rx="5.8" ry="2.7"/><ellipse cx=".8" cy="-4.8" rx="5.8" ry="2.7"/></g><rect x="-7.9" y="-5.5" width="9.9" height="7.7" fill="#0c0c0c"/><g><rect x="-7" y="-4.4" width="4.4" height="1.3" fill="#8a7d10"/><rect x="-7" y="-2.4" width="4.4" height="1.4" fill="#9a9a9a"/><rect x="-7" y="-.2" width="4.4" height="1.2" fill="#d9c414"/><rect x="-2" y="-4.4" width="1.1" height="1.4" fill="#aaa"/><rect x=".1" y="-4.4" width="1.1" height="1.4" fill="#aaa"/><rect x="-2" y="-2.4" width="1.1" height="1.4" fill="#d9c414"/><rect x=".1" y="-2.4" width="1.1" height="1.4" fill="#d9c414"/><rect x="-2" y="-.2" width="1.1" height="1.2" fill="#fff"/><rect x=".1" y="-.2" width="1.1" height="1.2" fill="#fff"/></g></g>
<rect x="462.9" y="672.1" width="9.5" height="9.5" fill="#6B0808"/>
<rect x="507.7" y="672.1" width="9.5" height="9.5" fill="#6B0808"/>
<rect x="472.8" y="703.2" width="34.4" height="12.8" rx="1.6" fill="#AEAEAE"/>
<circle cx="479.2" cy="709.6" r="3.9" fill="#F1F1F1"/><circle cx="490.0" cy="709.6" r="3.9" fill="#F1F1F1"/><circle cx="500.8" cy="709.6" r="4" fill="#56B74B"/>
<text x="485.0" y="632.8" class="nl" textLength="115.3" lengthAdjust="spacingAndGlyphs">Database GroupBy</text>
<text x="486.0" y="649.4" class="nl" textLength="80.9" lengthAdjust="spacingAndGlyphs">(deprecated)</text>
<text x="489.8" y="735.0" class="nd" textLength="104.3" lengthAdjust="spacingAndGlyphs">Create aggregate</text>
<rect x="322.0" y="799.7" width="35" height="35" rx="2.6" fill="#FD8427"/>
<g transform="translate(339.5 817.2)"><g transform="translate(0 0) scale(1 1)" fill="#0c0c0c"><path d="M-9.1-8.9C-5.5-8.9-3.2-7.7-3.2-5.8C-3.2-4.3-6-3.5-9.1-3.3Z"/><path d="M-9.1 .1C-6-.1-4.2-.9-3.2-2.4V1C-4.2 2.3-6 3.1-9.1 3.3Z"/><path d="M-9.1 5.5C-6 5.3-4.2 4.7-3.2 3.7V6.7C-4.2 8.1-6 8.7-9.1 9Z"/></g><path d="M1.5-4.6L6.6 0L1.5 4.6" fill="none" stroke="#0c0c0c" stroke-width="2.1" stroke-linecap="round" stroke-linejoin="round"/></g>
<rect x="312.4" y="811.5" width="9.5" height="9.5" fill="#FA3B48"/>
<rect x="357.2" y="811.5" width="9.5" height="9.5" fill="#6B0808"/>
<rect x="322.3" y="843.1" width="34.4" height="12.8" rx="1.6" fill="#AEAEAE"/>
<circle cx="328.7" cy="849.5" r="3.9" fill="#F1F1F1"/><circle cx="339.5" cy="849.5" r="3.9" fill="#F1F1F1"/><circle cx="350.3" cy="849.5" r="4" fill="#56B74B"/>
<text x="335.5" y="772.3" class="nl" textLength="95.3" lengthAdjust="spacingAndGlyphs">Database Table</text>
<text x="337.8" y="788.9" class="nl" textLength="51.4" lengthAdjust="spacingAndGlyphs">Selector</text>
<rect x="472.5" y="799.7" width="35" height="35" rx="2.6" fill="#FFCB0C"/>
<g transform="translate(490.0 817.2)"><g transform="translate(0 0) scale(1 1)" fill="#0c0c0c"><path d="M-9.1-8.9C-5.5-8.9-3.2-7.7-3.2-5.8C-3.2-4.3-6-3.5-9.1-3.3Z"/><path d="M-9.1 .1C-6-.1-4.2-.9-3.2-2.4V1C-4.2 2.3-6 3.1-9.1 3.3Z"/><path d="M-9.1 5.5C-6 5.3-4.2 4.7-3.2 3.7V6.7C-4.2 8.1-6 8.7-9.1 9Z"/></g><path d="M-1.6 -0.95H5.500000000000001V0.95H-1.6Z" fill="#0c0c0c"/><path d="M5.000000000000001 -3.1L8.8 0L5.000000000000001 3.1L5.500000000000001 0Z" fill="#0c0c0c" stroke="#0c0c0c" stroke-width=".6" stroke-linejoin="round"/><path d="M-0.8 -6.7H5.0V-5.7H-0.8Z" fill="#0c0c0c"/><path d="M4.5 -7.9L6.8 -6.2L4.5 -4.5L5.0 -6.2Z" fill="#0c0c0c" stroke="#0c0c0c" stroke-width=".6" stroke-linejoin="round"/><path d="M-0.8 5.9H5.0V6.9H-0.8Z" fill="#0c0c0c"/><path d="M4.5 4.7L6.8 6.4L4.5 8.1L5.0 6.4Z" fill="#0c0c0c" stroke="#0c0c0c" stroke-width=".6" stroke-linejoin="round"/><path d="M2.4-7.8V-4.6M2.4 4.8V8" stroke="#0c0c0c" stroke-width="1" fill="none"/></g>
<rect x="462.9" y="811.5" width="9.5" height="9.5" fill="#6B0808"/>
<rect x="507.7" y="811.5" width="9.5" height="9.5" fill="#6B0808"/>
<rect x="472.8" y="843.1" width="34.4" height="12.8" rx="1.6" fill="#AEAEAE"/>
<circle cx="479.2" cy="849.5" r="3.9" fill="#F1F1F1"/><circle cx="490.0" cy="849.5" r="3.9" fill="#F1F1F1"/><circle cx="500.8" cy="849.5" r="4" fill="#56B74B"/>
<text x="483.9" y="788.9" class="nl" textLength="123.6" lengthAdjust="spacingAndGlyphs">Database Row Filter</text>
<rect x="609.0" y="728.2" width="35" height="35" rx="2.6" fill="#FFCB0C"/>
<g transform="translate(626.5 745.7)"><g transform="translate(0 0) scale(1 1)" fill="#0c0c0c"><path d="M-9.1-8.9C-5.5-8.9-3.2-7.7-3.2-5.8C-3.2-4.3-6-3.5-9.1-3.3Z"/><path d="M-9.1 .1C-6-.1-4.2-.9-3.2-2.4V1C-4.2 2.3-6 3.1-9.1 3.3Z"/><path d="M-9.1 5.5C-6 5.3-4.2 4.7-3.2 3.7V6.7C-4.2 8.1-6 8.7-9.1 9Z"/></g><path d="M0.7999999999999999 -7.4V-3.3H2.0V-7.4Z" fill="#0c0c0c"/><path d="M-0.5 -3.8L1.4 -1.2L3.3 -3.8Z" fill="#0c0c0c"/><path d="M6.6000000000000005 -7.4V-2.5H7.8V-7.4Z" fill="#0c0c0c"/><path d="M5.300000000000001 -3.0L7.2 -0.4L9.1 -3.0Z" fill="#0c0c0c"/><path d="M-.4-6.4H1.4M7.2-7.4H8.6" stroke="#0c0c0c" stroke-width="1" fill="none"/><path d="M3.4499999999999997 0.6V5.3H4.75V0.6Z" fill="#0c0c0c"/><path d="M2.0999999999999996 4.8L4.1 7.6L6.1 4.8Z" fill="#0c0c0c"/></g>
<rect x="599.4" y="729.5" width="9.5" height="9.5" fill="#6B0808"/>
<rect x="599.4" y="750.8" width="9.5" height="9.5" fill="#6B0808"/>
<rect x="644.2" y="740.5" width="9.5" height="9.5" fill="#6B0808"/>
<rect x="609.3" y="771.6" width="34.4" height="12.8" rx="1.6" fill="#AEAEAE"/>
<circle cx="615.7" cy="778.0" r="3.9" fill="#F1F1F1"/><circle cx="626.5" cy="778.0" r="3.9" fill="#F1F1F1"/><circle cx="637.3" cy="778.0" r="4" fill="#56B74B"/>
<text x="621.2" y="717.5" class="nl" textLength="101.7" lengthAdjust="spacingAndGlyphs">Database Joiner</text>
<rect x="733.0" y="728.2" width="35" height="35" rx="2.6" fill="#FD8427"/>
<g transform="translate(750.5 745.7)"><g transform="translate(0.2 0.2) scale(1 1)" fill="#0c0c0c"><path d="M-9.1-8.9C-5.5-8.9-3.2-7.7-3.2-5.8C-3.2-4.3-6-3.5-9.1-3.3Z"/><path d="M-9.1 .1C-6-.1-4.2-.9-3.2-2.4V1C-4.2 2.3-6 3.1-9.1 3.3Z"/><path d="M-9.1 5.5C-6 5.3-4.2 4.7-3.2 3.7V6.7C-4.2 8.1-6 8.7-9.1 9Z"/></g><path d="M8.63 -4.20L8.63 -2.60L7.22 -2.66L6.80 -1.65L7.84 -0.69L6.71 0.44L5.75 -0.60L4.74 -0.18L4.80 1.23L3.20 1.23L3.26 -0.18L2.25 -0.60L1.29 0.44L0.16 -0.69L1.20 -1.65L0.78 -2.66L-0.63 -2.60L-0.63 -4.20L0.78 -4.14L1.20 -5.15L0.16 -6.11L1.29 -7.24L2.25 -6.20L3.26 -6.62L3.20 -8.03L4.80 -8.03L4.74 -6.62L5.75 -6.20L6.71 -7.24L7.84 -6.11L6.80 -5.15L7.22 -4.14ZM5.9 -3.4A1.9 1.9 0 1 0 2.1 -3.4A1.9 1.9 0 1 0 5.9 -3.4Z" fill="#0c0c0c" fill-rule="evenodd"/><path d="M0.5 4.7H5.5V6.7H0.5Z" fill="#0c0c0c"/><path d="M5.0 2.5L8.9 5.7L5.0 8.9L5.5 5.7Z" fill="#0c0c0c" stroke="#0c0c0c" stroke-width=".6" stroke-linejoin="round"/></g>
<rect x="723.4" y="740.5" width="9.5" height="9.5" fill="#6B0808"/>
<path d="M768.0 740.3L777.7 745.2L768.0 750.1Z" fill="#0b0b0b"/>
<rect x="733.3" y="771.6" width="34.4" height="12.8" rx="1.6" fill="#AEAEAE"/>
<circle cx="739.7" cy="778.0" r="3.9" fill="#F1F1F1"/><circle cx="750.5" cy="778.0" r="3.9" fill="#F1F1F1"/><circle cx="761.3" cy="778.0" r="4" fill="#56B74B"/>
<text x="744.4" y="700.8" class="nl" textLength="132.0" lengthAdjust="spacingAndGlyphs">Database Connection</text>
<text x="747.1" y="717.5" class="nl" textLength="81.3" lengthAdjust="spacingAndGlyphs">Table Reader</text>
<rect x="846.4" y="718.5" width="35" height="35" rx="2.6" fill="#FFCB0C"/>
<g transform="translate(863.9 736.0)"><path d="M-8.6-8.2H-5V-2.4" fill="none" stroke="#E73049" stroke-width="1.3"/><path d="M-7.6-3.6L-5-.6L-2.4-3.6Z" fill="#E73049"/><path d="M8.6-8.2H5.5V-2.4" fill="none" stroke="#3A8FC2" stroke-width="1.3"/><path d="M2.9-3.6L5.5-.6L8.1-3.6Z" fill="#3A8FC2"/><path d="M0-.9V6" stroke="#0c0c0c" stroke-width="2.4" fill="none"/><path d="M-4.5 4.4L0 9.2L4.5 4.4L0 6.2Z" fill="#0c0c0c" stroke="#0c0c0c" stroke-width=".6" stroke-linejoin="round"/></g>
<path d="M836.7 719.1L846.4 724.0L836.7 728.9Z" fill="#0b0b0b"/>
<path d="M836.7 740.3L846.4 745.2L836.7 750.1Z" fill="#0b0b0b"/>
<path d="M881.4 730.3L891.1 735.2L881.4 740.1Z" fill="#0b0b0b"/>
<rect x="846.7" y="761.4" width="34.4" height="12.8" rx="1.6" fill="#AEAEAE"/>
<circle cx="853.1" cy="767.8" r="3.9" fill="#F1F1F1"/><circle cx="863.9" cy="767.8" r="3.9" fill="#F1F1F1"/><circle cx="874.7" cy="767.8" r="4" fill="#56B74B"/>
<text x="861.5" y="707.3" class="nl" textLength="38.5" lengthAdjust="spacingAndGlyphs">Joiner</text>
<rect x="980.1" y="718.5" width="35" height="35" rx="2.6" fill="#3E8EB5"/>
<g transform="translate(997.6 736.0)"><circle cx="4" cy="-4.3" r="5" fill="#7ED0E9"/><circle cx="-3.8" cy="-.7" r="5" fill="#E03641"/><circle cx="2.7" cy="3.7" r="5" fill="#C1C933"/></g>
<path d="M970.4 730.3L980.1 735.2L970.4 740.1Z" fill="#0b0b0b"/>
<path d="M1015.1 719.0L1024.8 723.9L1015.1 728.8Z" fill="#0b0b0b"/>
<rect x="1015.3" y="740.4" width="9.5" height="9.5" fill="#27A7DC"/>
<rect x="980.4" y="761.4" width="34.4" height="12.8" rx="1.6" fill="#AEAEAE"/>
<circle cx="986.8" cy="767.8" r="3.9" fill="#F1F1F1"/><circle cx="997.6" cy="767.8" r="3.9" fill="#F1F1F1"/><circle cx="1008.4" cy="767.8" r="4" fill="#56B74B"/>
<text x="993.8" y="708.0" class="nl" textLength="91.6" lengthAdjust="spacingAndGlyphs">Color Manager</text>
<rect x="1141.8" y="650.1" width="35" height="35" rx="2.6" fill="#3E8EB5"/>
<g transform="translate(1159.3 667.6)"><path d="M-6.3 8.7V.3H-3.1V-6.5H-.4V4.8H3.5V-3H6.4V8.7Z" fill="#0c0c0c"/><path d="M-3.1 8.7V4.6H-.3V6.4H3.5V8.7Z" fill="#EAF4FF"/></g>
<path d="M1132.1 662.1L1141.8 667.0L1132.1 671.9Z" fill="#0b0b0b"/>
<path d="M1176.8 650.5L1186.5 655.4L1176.8 660.3Z" fill="#0b0b0b"/>
<path d="M1176.8 662.1L1186.5 667.0L1176.8 671.9Z" fill="#0b0b0b"/>
<path d="M1176.8 673.7L1186.5 678.6L1176.8 683.5Z" fill="#0b0b0b"/>
<rect x="1142.1" y="693.3" width="34.4" height="12.8" rx="1.6" fill="#AEAEAE"/>
<circle cx="1148.5" cy="699.7" r="3.9" fill="#F1F1F1"/><circle cx="1159.3" cy="699.7" r="3.9" fill="#F1F1F1"/><circle cx="1170.1" cy="699.7" r="4" fill="#56B74B"/>
<text x="1157.6" y="639.6" class="nl" textLength="58.3" lengthAdjust="spacingAndGlyphs">Statistics</text>
<rect x="1317.5" y="591.8" width="35" height="35" rx="2.6" fill="#3E8EB5"/>
<g transform="translate(1335.0 609.3)"><rect x="-9.2" y="-8.8" width="18" height="17.8" fill="#0c0c0c"/><rect x="-7.9" y="-7.5" width="15.4" height="3.7" fill="#F0852A"/><g fill="#fff"><rect x="-7.9" y="-2.5" width="4.3" height="4.2"/><rect x="-2.3" y="-2.5" width="4.3" height="4.2"/><rect x="3.3" y="-2.5" width="4.2" height="4.2"/><rect x="-7.9" y="3" width="4.3" height="4.6"/><rect x="-2.3" y="3" width="4.3" height="4.6"/><rect x="3.3" y="3" width="4.2" height="4.6"/></g></g>
<path d="M1307.8 603.9L1317.5 608.8L1307.8 613.7Z" fill="#0b0b0b"/>
<rect x="1317.8" y="635.1" width="34.4" height="12.8" rx="1.6" fill="#AEAEAE"/>
<circle cx="1324.2" cy="641.5" r="3.9" fill="#F1F1F1"/><circle cx="1335.0" cy="641.5" r="3.9" fill="#F1F1F1"/><circle cx="1345.8" cy="641.5" r="4" fill="#56B74B"/>
<text x="1329.9" y="581.3" class="nl" textLength="101.7" lengthAdjust="spacingAndGlyphs">Interactive Table</text>
<text x="1334.9" y="666.9" class="nd" textLength="54.4" lengthAdjust="spacingAndGlyphs">Highlight</text>
<rect x="1317.5" y="774.3" width="35" height="35" rx="2.6" fill="#3E8EB5"/>
<g transform="translate(1335.0 791.8)"><g fill="#fff" stroke="#0c0c0c" stroke-width="1.1"><rect x="-8" y="-5.6" width="2.6" height="13.6"/><rect x="-4.4" y="-8.1" width="3" height="16.1"/><rect x="-1" y=".2" width="2.7" height="7.8"/><rect x="2.4" y="3.5" width="2.7" height="4.5"/></g><path d="M-8.7-8.3V8.2H8.8" fill="none" stroke="#0c0c0c" stroke-width="1.2"/></g>
<path d="M1307.8 786.3L1317.5 791.2L1307.8 796.1Z" fill="#0b0b0b"/>
<rect x="1352.7" y="786.6" width="9.5" height="9.5" fill="#31B45F"/>
<rect x="1317.8" y="817.5" width="34.4" height="12.8" rx="1.6" fill="#AEAEAE"/>
<circle cx="1324.2" cy="823.9" r="3.9" fill="#F1F1F1"/><circle cx="1335.0" cy="823.9" r="3.9" fill="#F1F1F1"/><circle cx="1345.8" cy="823.9" r="4" fill="#56B74B"/>
<text x="1332.0" y="747.3" class="nl" textLength="58.9" lengthAdjust="spacingAndGlyphs">Bar Chart</text>
<text x="1331.0" y="763.8" class="nl" textLength="78.3" lengthAdjust="spacingAndGlyphs">(JFreeChart)</text>
<rect x="981.1" y="833.8" width="35" height="35" rx="2.6" fill="#FFCB0C"/>
<g transform="translate(998.6 851.3)"><rect x="-8.8" y="-8.8" width="18" height="17.8" fill="#0c0c0c"/><g fill="#3FAE3F"><rect x="-7.5" y="-7.5" width="4.2" height="4.1"/><rect x="-1.9" y="-7.5" width="4.2" height="4.1"/><rect x="3.7" y="-7.5" width="4.2" height="4.1"/><rect x="-7.5" y="-2" width="4.2" height="4.1"/><rect x="-7.5" y="3.5" width="4.2" height="4.2"/></g><g fill="#fff"><rect x="-1.9" y="-2" width="4.2" height="4.1"/><rect x="3.7" y="-2" width="4.2" height="4.1"/><rect x="-1.9" y="3.5" width="4.2" height="4.2"/><rect x="3.7" y="3.5" width="4.2" height="4.2"/></g></g>
<path d="M971.4 845.6L981.1 850.5L971.4 855.4Z" fill="#0b0b0b"/>
<path d="M1016.1 834.6L1025.8 839.5L1016.1 844.4Z" fill="#0b0b0b"/>
<path d="M1016.1 855.6L1025.8 860.5L1016.1 865.4Z" fill="#0b0b0b"/>
<rect x="981.4" y="876.8" width="34.4" height="12.8" rx="1.6" fill="#AEAEAE"/>
<circle cx="987.8" cy="883.2" r="3.9" fill="#F1F1F1"/><circle cx="998.6" cy="883.2" r="3.9" fill="#F1F1F1"/><circle cx="1009.4" cy="883.2" r="4" fill="#56B74B"/>
<text x="996.7" y="822.8" class="nl" textLength="57.3" lengthAdjust="spacingAndGlyphs">Crosstab</text>
<rect x="1477.0" y="707.5" width="35" height="35" rx="2.6" fill="#3E8EB5"/>
<g transform="translate(1494.5 725.0)"><g fill="#0c0c0c"><circle cx="1" cy="-4.3" r="2.1"/><circle cx="-5" cy="-2.5" r="2.1"/><circle cx="6.3" cy="-2.1" r="2.1"/><circle cx="-.9" cy="1.4" r="2.1"/><circle cx="-6.6" cy="3.8" r="2.1"/><circle cx="4.4" cy="3.8" r="2.1"/></g></g>
<path d="M1467.3 719.4L1477.0 724.3L1467.3 729.2Z" fill="#0b0b0b"/>
<rect x="1477.3" y="750.6" width="34.4" height="12.8" rx="1.6" fill="#AEAEAE"/>
<circle cx="1483.7" cy="757.0" r="3.9" fill="#F1F1F1"/><circle cx="1494.5" cy="757.0" r="3.9" fill="#F1F1F1"/><circle cx="1505.3" cy="757.0" r="4" fill="#56B74B"/>
<text x="1492.5" y="696.8" class="nl" textLength="72.6" lengthAdjust="spacingAndGlyphs">Scatter Plot</text>
<text x="1494.1" y="782.6" class="nd" textLength="115.8" lengthAdjust="spacingAndGlyphs">Interactive data plot</text>
<rect x="1757.2" y="672.2" width="35" height="35" rx="2.6" fill="#FB3640"/>
<g transform="translate(1774.7 689.7)"><g transform="translate(0.3 0) scale(1 1)" fill="#0c0c0c"><path d="M-9.1-8.9C-5.5-8.9-3.2-7.7-3.2-5.8C-3.2-4.3-6-3.5-9.1-3.3Z"/><path d="M-9.1 .1C-6-.1-4.2-.9-3.2-2.4V1C-4.2 2.3-6 3.1-9.1 3.3Z"/><path d="M-9.1 5.5C-6 5.3-4.2 4.7-3.2 3.7V6.7C-4.2 8.1-6 8.7-9.1 9Z"/></g><path d="M8.9 -1.0H3.5999999999999996V1.0H8.9Z" fill="#0c0c0c"/><path d="M4.1 -3.2L0.2 0L4.1 3.2L3.5999999999999996 0Z" fill="#0c0c0c" stroke="#0c0c0c" stroke-width=".6" stroke-linejoin="round"/></g>
<path d="M1747.5 673.4L1757.2 678.3L1747.5 683.2Z" fill="#0b0b0b"/>
<rect x="1748.2" y="695.1" width="8.3" height="8.3" fill="none" stroke="#F0404E" stroke-width="1.1"/>
<rect x="1757.5" y="715.9" width="34.4" height="12.8" rx="1.6" fill="#AEAEAE"/>
<circle cx="1763.9" cy="722.3" r="3.9" fill="#F1F1F1"/><circle cx="1774.7" cy="722.3" r="3.9" fill="#F1F1F1"/><circle cx="1785.5" cy="722.3" r="4" fill="#56B74B"/>
<text x="1769.6" y="661.4" class="nl" textLength="101.8" lengthAdjust="spacingAndGlyphs">Database Writer</text>
<text x="1775.0" y="747.1" class="nd" textLength="149.9" lengthAdjust="spacingAndGlyphs">Write results to database</text>
<rect x="1657.2" y="822.8" width="35" height="35" rx="2.6" fill="#C9956F"/>
<g transform="translate(1674.7 840.3)"><g fill="#FFB703"><rect x="-7.8" y="-3.2" width="4.4" height="10.4" rx="1.2"/><rect x="-2.6" y="-6.6" width="4.4" height="13.8" rx="1.2"/><rect x=".6" y="-.2" width="3.6" height="7.4" rx="1"/><rect x="4" y="-2.6" width="4.7" height="9.8" rx="1.2"/><rect x="-7.4" y="3" width="15.6" height="3.6"/></g><g fill="#FFE88A"><rect x="-6.4" y="-2.2" width="1.7" height="5" rx=".8"/><rect x="-1.3" y="-5.6" width="1.7" height="4.4" rx=".8"/><rect x="5.4" y="-1.6" width="1.6" height="1.2" rx=".6"/></g><path d="M-6.6 4.3L-1.5 .3L1.8 2.5L6.4 .5" fill="none" stroke="#1b1b1b" stroke-width=".9"/><g fill="#141414"><ellipse cx="-6.6" cy="4.3" rx="1.7" ry="1.2" transform="rotate(-25 -6.6 4.3)"/><circle cx="-1.5" cy=".3" r="1.35"/><circle cx="1.8" cy="2.5" r="1.35"/><ellipse cx="6.4" cy=".5" rx="1.6" ry="1.2" transform="rotate(-20 6.4 .5)"/></g></g>
<path d="M1647.5 834.8L1657.2 839.7L1647.5 844.6Z" fill="#0b0b0b"/>
<rect x="1657.5" y="866.4" width="34.4" height="12.8" rx="1.6" fill="#AEAEAE"/>
<circle cx="1663.9" cy="872.8" r="3.9" fill="#F1F1F1"/><circle cx="1674.7" cy="872.8" r="3.9" fill="#F1F1F1"/><circle cx="1685.5" cy="872.8" r="4" fill="#56B74B"/>
<text x="1671.1" y="812.3" class="nl" textLength="88.8" lengthAdjust="spacingAndGlyphs">Data to Report</text>
<text x="1674.0" y="897.7" class="nd" textLength="101.5" lengthAdjust="spacingAndGlyphs">Include this table</text>
<text x="1676.8" y="913.9" class="nd" textLength="60.7" lengthAdjust="spacingAndGlyphs">in a report</text>
<text x="397.8" y="170.1" class="st" textLength="157.0" lengthAdjust="spacingAndGlyphs">Data Access</text>
<text x="728.4" y="171.0" class="st" textLength="202.5" lengthAdjust="spacingAndGlyphs">Transformation</text>
<text x="1069.2" y="172.3" class="st" textLength="303.4" lengthAdjust="spacingAndGlyphs">Analyze &amp; Data Mining</text>
<text x="1409.8" y="172.9" class="st" textLength="169.0" lengthAdjust="spacingAndGlyphs">Visualization</text>
<text x="1722.7" y="174.3" class="st" textLength="164.6" lengthAdjust="spacingAndGlyphs">Deployment</text>
<text x="170.7" y="576.7" class="st" style="text-anchor:start;font-size:30px" textLength="108.4" lengthAdjust="spacingAndGlyphs">Big Data</text>
<text x="173.7" y="601.8" class="sub" textLength="271.8" lengthAdjust="spacingAndGlyphs">Loading &amp; Preprocessing on Hadoop</text>
</svg>
<h1>Open Integration</h1>
<div id="rule"></div>
<div class="ch" style="left:22.70px;top:190.25px;letter-spacing:-0.220px">Data Access</div>
<div class="ul" style="left:23.2px;top:212.1px;width:110.8px"></div>
<div class="cl" style="left:22.70px;top:216.05px;letter-spacing:0.247px">MySQL, Oracle, ...</div>
<div class="cl" style="left:22.70px;top:242.75px;letter-spacing:-0.831px">SAS, SPSS, ...</div>
<div class="cl" style="left:22.70px;top:269.45px;letter-spacing:0.187px">Excel, Flat, ...</div>
<div class="cl" style="left:22.70px;top:296.05px;letter-spacing:0.475px">Hive, Impala, ...</div>
<div class="cl" style="left:22.70px;top:322.75px;letter-spacing:0.014px">XML, JSON, PMML</div>
<div class="cl" style="left:23.70px;top:349.45px;letter-spacing:0.370px">Text, Doc, Image, ...</div>
<div class="cl" style="left:23.70px;top:376.05px;letter-spacing:0.583px">Web Crawlers,</div>
<div class="cl" style="left:22.70px;top:402.75px;letter-spacing:0.576px">Industry Specific,</div>
<div class="cl" style="left:23.70px;top:429.45px;letter-spacing:0.900px">Community / 3<sup>rd</sup></div>
<div class="cl" style="left:22.70px;top:456.05px;letter-spacing:0.800px">party ...</div>
<div class="ch" style="left:181.20px;top:949.75px;letter-spacing:-0.029px">Big Data</div>
<div class="ul" style="left:181.7px;top:971.6px;width:77.8px"></div>
<div class="cl" style="left:181.20px;top:975.65px;letter-spacing:0.315px">Hive, Impala, HDFS Vertica,</div>
<div class="cl" style="left:182.20px;top:1002.75px;letter-spacing:0.693px">Teradata/Aster, Spark, MLlib,</div>
<div class="cl" style="left:182.20px;top:1029.35px;letter-spacing:0.762px">Community / 3<sup>rd</sup> party, &nbsp;...</div>
<div class="ch" style="left:588.90px;top:947.95px;letter-spacing:0.369px">Transformation</div>
<div class="ul" style="left:588.6px;top:969.8px;width:144.3px"></div>
<div class="cl" style="left:587.90px;top:974.85px;letter-spacing:0.856px">Row, Column, Matrix</div>
<div class="cl" style="left:588.90px;top:1001.75px;letter-spacing:0.623px">Text, Image, Networks, Time</div>
<div class="cl" style="left:588.90px;top:1028.15px;letter-spacing:0.150px">Series, Java, Python,</div>
<div class="cl" style="left:588.90px;top:1054.75px;letter-spacing:0.824px">Community / 3<sup>rd</sup> party, ...</div>
<div class="ch" style="left:912.70px;top:948.05px;letter-spacing:0.138px">Analysis &amp; Mining</div>
<div class="ul" style="left:913.2px;top:969.9px;width:166.5px"></div>
<div class="cl" style="left:912.70px;top:975.05px;letter-spacing:0.448px">Statistics, Machine Learning, Data</div>
<div class="cl" style="left:912.70px;top:1001.65px;letter-spacing:0.754px">Mining, Web Analytics, Text</div>
<div class="cl" style="left:912.70px;top:1028.15px;letter-spacing:0.574px">Mining, Network Analysis, Social</div>
<div class="cl" style="left:912.70px;top:1054.95px;letter-spacing:0.477px">Media Analysis, R, Weka, Python,</div>
<div class="cl" style="left:913.70px;top:1081.65px;letter-spacing:0.808px">Community / 3<sup>rd</sup> party, ...</div>
<div class="ch" style="left:1276.70px;top:937.05px;letter-spacing:0.133px">Visualization</div>
<div class="ul" style="left:1276.2px;top:958.9px;width:118.2px"></div>
<div class="cl" style="left:1275.70px;top:966.15px;letter-spacing:0.511px">R, Python,</div>
<div class="cl" style="left:1276.70px;top:995.35px;letter-spacing:0.200px">JFreeChart,</div>
<div class="cl" style="left:1276.70px;top:1025.05px;letter-spacing:0.160px">JavaScript,</div>
<div class="cl" style="left:1276.70px;top:1054.35px;letter-spacing:0.816px">Community / 3<sup>rd</sup> party, ...</div>
<div class="ch" style="left:1603.50px;top:935.95px;letter-spacing:0.578px">Deployment</div>
<div class="ul" style="left:1603.8px;top:957.8px;width:115.0px"></div>
<div class="cl" style="left:1604.50px;top:962.25px;letter-spacing:-0.400px">via BIRT</div>
<div class="cl" style="left:1603.50px;top:988.85px;letter-spacing:-0.057px">PMML, XML, JSON</div>
<div class="cl" style="left:1603.50px;top:1016.05px;letter-spacing:0.200px">Databases, Excel, Flat, etc.</div>
<div class="cl" style="left:1604.50px;top:1042.05px;letter-spacing:0.400px">Text, Doc, Image</div>
<div class="cl" style="left:1602.50px;top:1068.85px;letter-spacing:0.600px">Industry Specific</div>
<div class="cl" style="left:1603.50px;top:1095.55px;letter-spacing:0.864px">Community / 3<sup>rd</sup> party, ...</div>
</body></html>
